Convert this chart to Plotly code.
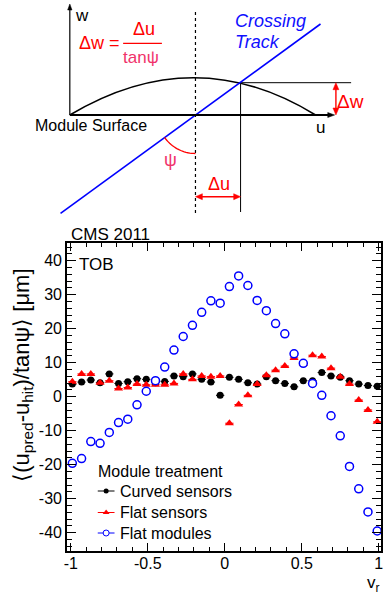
import numpy as np
import plotly.graph_objects as go

# ---------------- data ----------------
v_r = [round(-0.99 + 0.06 * i, 2) for i in range(34)]

curved_sensors = [3.7, 4.3, 4.9, 4.1, 6.7, 3.9, 4.4, 5.3, 5.1, 4.1,
                  4.5, 6.1, 5.9, 6.7, 5.1, 4.3, 0.4, 5.7, 5.1, 4.1,
                  3.7, 5.9, 4.7, 3.9, 2.9, 4.7, 4.7, 7.1, 6.1, 5.7,
                  4.7, 3.7, 3.3, 3.1]

flat_sensors = [4.4, 6.7, 6.7, 4.1, 4.7, 2.4, 2.7, 3.7, 3.5, 3.5,
                3.5, 3.9, 6.7, 5.1, 6.1, 5.9, 6.1, -7.8, -2.3, 0.4,
                3.7, 6.3, 7.8, 9.0, 11.4, 9.6, 12.2, 11.8, 8.4, 5.9,
                3.7, -1.0, -3.9, -7.4]

flat_modules = [-19.6, -18.2, -13.2, -13.7, -10.5, -7.6, -6.6, -2.4, 1.6, 4.7,
                8.7, 13.7, 17.7, 21.0, 24.8, 28.2, 27.5, 32.4, 35.5, 32.7,
                28.3, 25.3, 21.5, 18.5, 12.6, 9.8, 3.9, 0.4, -5.6, -11.5,
                -20.5, -27.1, -33.9, -39.5]

series_names = ["Curved sensors", "Flat sensors", "Flat modules"]
legend_title = "Module treatment"
x_ticks = [-1, -0.5, 0, 0.5, 1]
y_ticks = [-40, -30, -20, -10, 0, 10, 20, 30, 40]

FONT = "Liberation Sans, Arial, Helvetica, sans-serif"
RED = "#ff0000"
PINK = "#f0336b"
BLUE = "#1010ff"
DBLUE = "#0000ff"

W, H = 384, 592
x0, x1 = 65, 383     # plot frame px
y0, y1 = 243, 551

fig = go.Figure()

# error bars (drawn first), then markers on top
series = [curved_sensors, flat_sensors, flat_modules]
colors = ["black", RED, DBLUE]
for name, vals, c in zip(series_names, series, colors):
    fig.add_trace(go.Scatter(
        x=v_r, y=vals, mode="markers", showlegend=False, hoverinfo="skip",
        marker=dict(size=1, color="rgba(0,0,0,0)"),
        error_x=dict(type="constant", value=0.027, thickness=1, width=0, color=c),
        xaxis="x", yaxis="y",
    ))

marker_styles = [
    dict(symbol="circle", size=7, color="black", line=dict(width=0)),
    dict(symbol="triangle-up", size=8, color=RED, line=dict(width=0)),
    dict(symbol="circle", size=8, color="white", line=dict(color=DBLUE, width=1.5)),
]
for name, vals, ms in zip(series_names, series, marker_styles):
    fig.add_trace(go.Scatter(x=v_r, y=vals, mode="markers", name=name, showlegend=False,
                             marker=ms, xaxis="x", yaxis="y"))

# ---- legend drawn on a full-figure overlay axis (pixel coordinates) ----
leg_x0, leg_x1, leg_text_x = 96, 113, 117
leg_rows = [491, 512.5, 533]
leg_marker = [
    dict(symbol="circle", size=5, color="black", line=dict(width=0)),
    dict(symbol="triangle-up", size=6, color=RED, line=dict(width=0)),
    dict(symbol="circle", size=6, color="white", line=dict(color=DBLUE, width=1)),
]
for name, c, yy, ms in zip(series_names, colors, leg_rows, leg_marker):
    fig.add_trace(go.Scatter(x=[leg_x0, leg_x1], y=[yy, yy], mode="lines", showlegend=False,
                             hoverinfo="skip", line=dict(color=c, width=1),
                             xaxis="x3", yaxis="y3"))
    fig.add_trace(go.Scatter(x=[(leg_x0 + leg_x1) / 2], y=[yy], mode="markers", showlegend=False,
                             hoverinfo="skip", marker=ms, xaxis="x3", yaxis="y3"))

fig.update_layout(
    width=W, height=H,
    margin=dict(l=0, r=0, t=0, b=0),
    paper_bgcolor="white", plot_bgcolor="rgba(0,0,0,0)",
    font=dict(family=FONT, size=16, color="black"),
    showlegend=False,
    xaxis=dict(domain=[x0 / W, x1 / W], range=[-1.0237, 1.0147],
               anchor="y", showgrid=False, zeroline=False,
               showline=True, linecolor="black", linewidth=2, mirror="ticks",
               ticks="inside", ticklen=8, tickwidth=1, tickcolor="black",
               tickvals=x_ticks, ticktext=["-1", "-0.5", "0", "0.5", "1"],
               tickfont=dict(size=16, family=FONT), ticklabeloverflow="allow",
               ticklabelstandoff=-3,
               minor=dict(dtick=0.1, tick0=0, ticks="inside", ticklen=4, tickwidth=1, tickcolor="black"),
               fixedrange=True),
    yaxis=dict(domain=[1 - y1 / H, 1 - y0 / H], range=[-45.38, 45.2],
               anchor="x", showgrid=False, zeroline=False,
               showline=True, linecolor="black", linewidth=2, mirror="ticks",
               ticks="inside", ticklen=9, tickwidth=1, tickcolor="black",
               tickvals=y_ticks, ticktext=[str(t) for t in y_ticks],
               tickfont=dict(size=16, family=FONT), ticklabeloverflow="allow",
               minor=dict(dtick=2, tick0=0, ticks="inside", ticklen=5, tickwidth=1, tickcolor="black"),
               fixedrange=True),
    xaxis2=dict(domain=[0, 1], range=[0, W], anchor="y2", visible=False, fixedrange=True),
    yaxis2=dict(domain=[1 - 220 / H, 1], range=[220, 0], anchor="x2", visible=False, fixedrange=True),
    xaxis3=dict(domain=[0, 1], range=[0, W], anchor="y3", visible=False, fixedrange=True),
    yaxis3=dict(domain=[0, 1], range=[H, 0], anchor="x3", visible=False, fixedrange=True),
)

# ---------------- schematic (diagram coordinates in px) ----------------
shapes = []
def line(xa, ya, xb, yb, color="black", width=1, dash="solid"):
    shapes.append(dict(type="line", xref="x2", yref="y2", x0=xa, y0=ya, x1=xb, y1=yb,
                       line=dict(color=color, width=width, dash=dash)))

def head(xt, yt, dx, dy, color, L=7, Wd=3.2):
    n = np.hypot(dx, dy); ux, uy = dx / n, dy / n
    bx, by = xt - ux * L, yt - uy * L
    px, py = -uy, ux
    p = (f"M {xt} {yt} L {bx + px*Wd:.2f} {by + py*Wd:.2f} "
         f"L {bx - px*Wd:.2f} {by - py*Wd:.2f} Z")
    shapes.append(dict(type="path", xref="x2", yref="y2", path=p,
                       fillcolor=color, line=dict(color=color, width=0.5)))

shapes.append(dict(type="path", xref="x2", yref="y2",
                   path="M 67.7 115 Q 194 40.4 316.7 115",
                   line=dict(color="black", width=1.5)))
line(195, 12, 195, 213, dash="dot", width=1.2)
line(240.7, 82.7, 240.7, 212, width=1)
line(240.7, 82.7, 352.7, 82.7, width=1)
line(58.3, 213.3, 321.7, 24, color=DBLUE, width=1.6)
line(121.7, 43.3, 161, 43.3, color=RED, width=1.2)
line(67.7, 115, 330, 115, width=2)
head(336, 115, 1, 0, "black", L=7, Wd=2.5)
line(67.7, 115, 67.7, 9, width=1.2)
head(67.7, 4, 0, -1, "black", L=6, Wd=2.2)
line(337.3, 88, 337.3, 110, color=RED, width=1.4)
head(337.3, 82.7, 0, -1, RED, L=7, Wd=3)
head(337.3, 115, 0, 1, RED, L=7, Wd=3)
line(200, 196.7, 235.7, 196.7, color=RED, width=1.4)
head(195, 196.7, -1, 0, RED, L=7, Wd=3)
head(240.7, 196.7, 1, 0, RED, L=7, Wd=3)

cx, cy, r = 195, 115, 38.5
a_start = np.arctan2(213.3 - 115, 58.3 - 195)
ang = np.linspace(a_start, np.pi / 2, 20)
arc = "M " + " L ".join(f"{cx + r*np.cos(a):.2f} {cy + r*np.sin(a):.2f}" for a in ang)
shapes.append(dict(type="path", xref="x2", yref="y2", path=arc,
                   line=dict(color=RED, width=1.3)))

fig.update_layout(shapes=shapes)

ann = []
def txt(x, y, s, color="black", size=16, xanchor="center", italic=False):
    ann.append(dict(x=x, y=y, xref="x2", yref="y2", text=s, showarrow=False,
                    xanchor=xanchor, yanchor="middle",
                    font=dict(family=FONT, size=size, color=color,
                              style="italic" if italic else "normal")))

txt(80.5, 15, "w", size=17)
txt(97.5, 43, "Δw =", color=RED, size=18)
txt(143, 29, "Δu", color=RED, size=18)
txt(140, 57.5, "tanψ", color=PINK, size=17)
txt(233, 21, "Crossing", color=BLUE, size=18, xanchor="left", italic=True)
txt(233, 41.5, "Track", color=BLUE, size=18, xanchor="left", italic=True)
txt(89.5, 125, "Module Surface", size=16)
txt(322, 127, "u", size=17)
txt(352.5, 101.5, "Δw", color=RED, size=19)
txt(170, 160, "ψ", color=PINK, size=18)
txt(218.5, 183.5, "Δu", color=RED, size=18)

# ---------------- plot texts (paper) ----------------
def ptxt(xpx, ypx, s, size=16, xanchor="left", angle=0, yanchor="middle"):
    ann.append(dict(x=xpx / W, y=1 - ypx / H, xref="paper", yref="paper", text=s,
                    showarrow=False, xanchor=xanchor, yanchor=yanchor, textangle=angle,
                    font=dict(family=FONT, size=size, color="black")))

ptxt(67, 234, "CMS 2011", size=17)
ptxt(75, 264.5, "TOB", size=17)
ptxt(94, 471, legend_title, size=16)
for name, yy in zip(series_names, leg_rows):
    ptxt(leg_text_x, yy, name, size=16)
ptxt(367, 584, "v<sub>r</sub>", size=17)
ptxt(20, 375, "⟨(u<sub>pred</sub>-u<sub>hit</sub>)/tanψ⟩ [μm]", size=22, xanchor="center", angle=-90)

fig.update_layout(annotations=ann)

fig.write_html("out.html", config={"displayModeBar": False},
               post_script="document.body.style.margin='0';document.body.style.overflow='hidden';")
